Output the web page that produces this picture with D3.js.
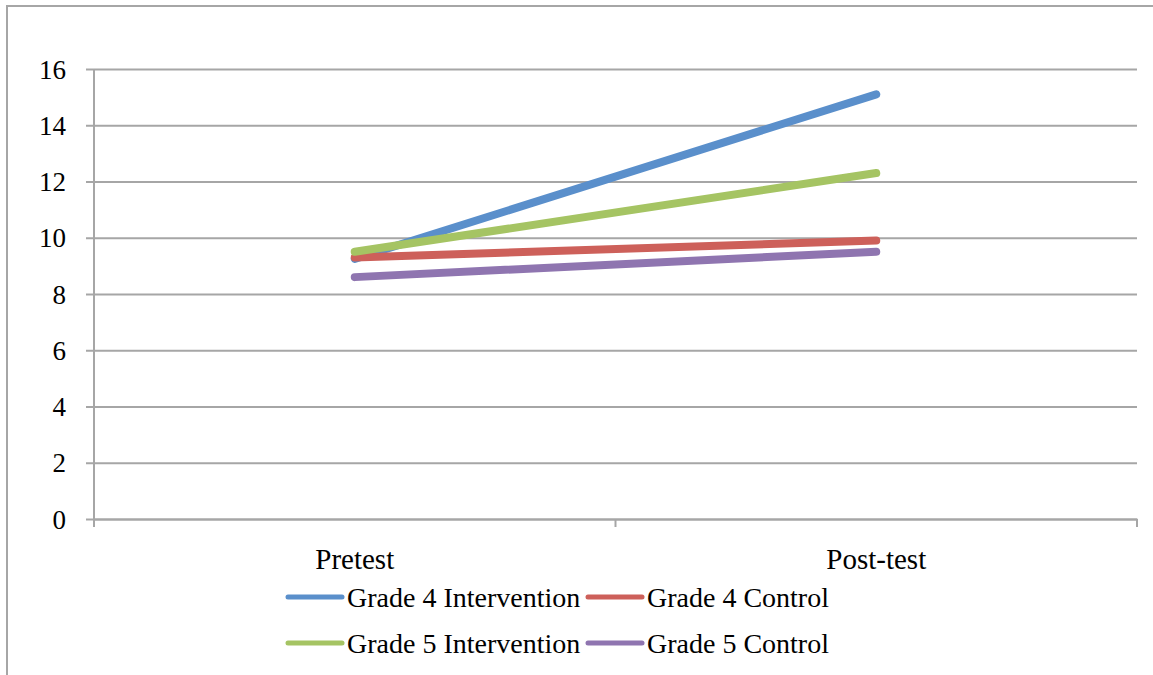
<!DOCTYPE html>
<html><head><meta charset="utf-8">
<script src="https://cdn.jsdelivr.net/npm/d3@7"></script>
<style>body{margin:0;background:#fff;} svg{display:block;}</style>
</head><body>
<svg id="c" width="1153" height="675"></svg>
<script>
const categories = ["Pretest", "Post-test"];
const seriesNames = ["Grade 4 Intervention", "Grade 4 Control", "Grade 5 Intervention", "Grade 5 Control"];
const g4Intervention = [9.25, 15.1];
const g4Control = [9.3, 9.9];
const g5Intervention = [9.5, 12.3];
const g5Control = [8.6, 9.5];
const yTicks = [0, 2, 4, 6, 8, 10, 12, 14, 16];
const colors = ["#5A8FCB", "#CD605A", "#A5C463", "#8F75B0"];
const seriesValues = [g4Intervention, g4Control, g5Intervention, g5Control];

const svg = d3.select("#c");
const font = "'Liberation Serif', 'Times New Roman', serif";
const grid = "#a6a6a6";

// outer border
svg.append("path").attr("d", "M7,675 L7,6 L1153,6").attr("fill", "none").attr("stroke", grid).attr("stroke-width", 2);

const L = 94, R = 1137, T = 69, B = 519;
const x = d3.scaleBand().domain(categories).range([L, R]);
const y = d3.scaleLinear().domain([0, 16]).range([B, T]);

// gridlines + y ticks
const yAxis = svg.append("g").attr("transform", `translate(${L},0)`)
  .call(d3.axisLeft(y).tickValues(yTicks).tickSize(8).tickPadding(20).tickFormat(d3.format("d")));
yAxis.select(".domain").remove();
yAxis.selectAll(".tick line").attr("stroke", grid).attr("stroke-width", 2);
yAxis.selectAll(".tick").append("line").attr("x1", 0).attr("x2", R - L).attr("stroke", grid).attr("stroke-width", 2);
yAxis.selectAll(".tick text").attr("font-family", font).attr("font-size", 27).attr("fill", "#000").attr("dy", "0.34em");
svg.append("line").attr("x1", L).attr("x2", L).attr("y1", T).attr("y2", B + 1).attr("stroke", grid).attr("stroke-width", 2);

// x axis
const xAxis = svg.append("g").attr("transform", `translate(0,${B})`)
  .call(d3.axisBottom(x).tickSize(0).tickPadding(0));
xAxis.select(".domain").attr("stroke", grid).attr("stroke-width", 2);
xAxis.selectAll(".tick text").attr("font-family", font).attr("font-size", 29).attr("fill", "#000")
  .attr("y", 50).attr("dy", 0);
// category boundary ticks
const bounds = [L, L + x.step(), R];
svg.selectAll(".bt").data(bounds).enter().append("line")
  .attr("x1", d => d).attr("x2", d => d).attr("y1", B).attr("y2", B + 8)
  .attr("stroke", grid).attr("stroke-width", 2);

// series lines
const line = d3.line().x((d, i) => x(categories[i]) + x.bandwidth() / 2).y(d => y(d));
seriesValues.forEach((vals, k) => {
  svg.append("path").datum(vals).attr("d", line).attr("fill", "none")
    .attr("stroke", colors[k]).attr("stroke-width", 8).attr("stroke-linecap", "round");
});

// legend
const legPos = [[288, 597], [588, 597], [288, 643], [588, 643]];
seriesNames.forEach((name, k) => {
  const [lx, ly] = legPos[k];
  svg.append("line").attr("x1", lx).attr("x2", lx + 54).attr("y1", ly).attr("y2", ly)
    .attr("stroke", colors[k]).attr("stroke-width", 5).attr("stroke-linecap", "round");
  svg.append("text").attr("x", lx + 59).attr("y", ly + 10).text(name)
    .attr("font-family", font).attr("font-size", 28).attr("fill", "#000");
});
</script>
</body></html>
